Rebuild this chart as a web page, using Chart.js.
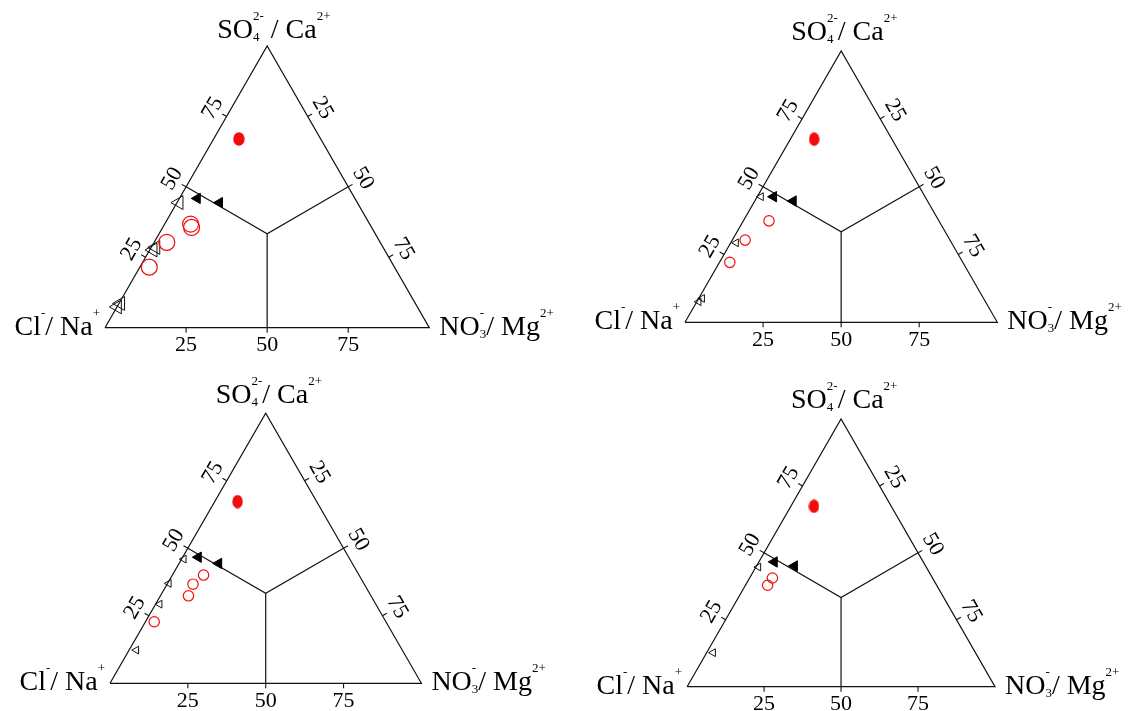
<!DOCTYPE html>
<html>
<head>
<meta charset="utf-8">
<script src="https://cdn.jsdelivr.net/npm/chart.js@4.4.0/dist/chart.umd.min.js"></script>
<style>
  html, body { margin: 0; padding: 0; background: #ffffff; }
  #sheet { position: relative; width: 1130px; height: 711px; overflow: hidden; background: #ffffff; }
  #sheet canvas { position: absolute; }
</style>
</head>
<body>
<div id="sheet">
  <canvas id="chartA" width="565" height="355" style="left:0;top:0"></canvas>
  <canvas id="chartB" width="565" height="355" style="left:565px;top:0"></canvas>
  <canvas id="chartC" width="565" height="356" style="left:0;top:355px"></canvas>
  <canvas id="chartD" width="565" height="356" style="left:565px;top:355px"></canvas>
</div>
<script>
// Percent marks along each side of the triangle
const tickValues = [25, 50, 75];
const tickLabels = ['25', '50', '75'];

// Corner labels: plain runs ({t}) and stacked scripts ({sup, sub})
const labelTopWide = [{ t: 'SO' }, { sub: '4', sup: '2-' }, { t: ' / Ca' }, { sup: '2+' }];
const labelTop = [{ t: 'SO' }, { sub: '4', sup: '2-' }, { t: '/ Ca' }, { sup: '2+' }];
const labelLeft = [{ t: 'Cl' }, { sup: '-' }, { t: '/ Na' }, { sup: '+' }];
const labelRight = [{ t: 'NO' }, { sub: '3', sup: '-' }, { t: '/ Mg' }, { sup: '2+' }];

// Sample compositions as [SO4 %, NO3 %]; Cl makes up the rest to 100 %
const a_solidCircles = [[67.0, 7.8]];
const a_solidTriangles = [[45.9, 5.5], [44.4, 13.1]];
const a_openTriangles = [[44.4, 0.6], [28.5, 1.4], [27.6, 1.0], [7.4, 0.1], [8.6, 0.5]];
const a_openCircles = [[21.5, 2.9], [30.3, 3.9], [36.8, 8.0], [35.6, 8.9]];

const b_solidCircles = [[67.5, 7.6]];
const b_solidTriangles = [[46.3, 5.2], [44.7, 12.3]];
const b_openTriangles = [[46.3, 1.2], [29.3, 1.7], [8.8, 1.1], [7.6, 0.6]];
const b_openCircles = [[37.4, 8.2], [30.3, 4.1], [22.1, 3.3]];

const c_solidCircles = [[67.3, 7.3]];
const c_solidTriangles = [[46.7, 5.0], [44.4, 12.7]];
const c_openTriangles = [[46.0, 0.7], [37.0, 0.4], [29.3, 1.3], [12.3, 2.3]];
const c_openCircles = [[22.8, 2.8], [32.4, 9.0], [36.7, 8.3], [40.1, 10.0]];

const d_solidCircles = [[67.4, 7.5]];
const d_solidTriangles = [[46.6, 5.0], [45.1, 12.3]];
const d_openTriangles = [[44.7, 0.8], [12.7, 2.1]];
const d_openCircles = [[40.6, 7.4], [37.9, 7.2]];

// ---------------------------------------------------------------------------

const INK = '#111111';
const RED = '#f20c0c';
const SERIF = '"Liberation Serif", "Times New Roman", serif';

// ternary [SO4, NO3] -> plot coordinates (x across the base, y up to the SO4 apex)
const toXY = ([so4, no3]) => ({ x: no3 + so4 / 2, y: so4 });

function ellipseMarker(w, h, color) {
  const c = document.createElement('canvas');
  c.width = w; c.height = h;
  const g = c.getContext('2d');
  g.fillStyle = color;
  g.beginPath();
  g.ellipse(w / 2, h / 2, w / 2 - 0.3, h / 2 - 0.3, 0, 0, Math.PI * 2);
  g.fill();
  return c;
}

function richWidth(ctx, parts, big, small) {
  return parts.map(p => {
    if (p.t !== undefined) { ctx.font = big; return ctx.measureText(p.t).width; }
    ctx.font = small;
    return Math.max(p.sup ? ctx.measureText(p.sup).width : 0, p.sub ? ctx.measureText(p.sub).width : 0);
  });
}

function drawRich(ctx, parts, x, y, align, st) {
  const widths = richWidth(ctx, parts, st.big, st.small);
  const total = widths.reduce((s, v) => s + v, 0);
  let cx = align === 'right' ? x - total : x;
  ctx.textAlign = 'left';
  ctx.textBaseline = 'alphabetic';
  parts.forEach((p, i) => {
    if (p.t !== undefined) {
      ctx.font = st.big;
      ctx.fillText(p.t, cx, y);
    } else {
      ctx.font = st.small;
      if (p.sup) ctx.fillText(p.sup, cx, y - st.raise);
      if (p.sub) ctx.fillText(p.sub, cx, y + st.drop);
    }
    cx += widths[i];
  });
}

// Frame marks, percent labels and corner names, placed through the chart's scales
const ternaryFrame = {
  id: 'ternaryFrame',
  afterDraw(chart, args, o) {
    const { ctx } = chart;
    const sx = chart.scales.x, sy = chart.scales.y;
    const px = (x, y) => ({ x: sx.getPixelForValue(x), y: sy.getPixelForValue(y) });
    const L = px(0, 0), T = px(50, 100), R = px(100, 0);
    const C = { x: (L.x + T.x + R.x) / 3, y: (L.y + T.y + R.y) / 3 };

    const sides = [
      { at: v => px(v / 2, v), a: L, b: T, gap: o.sideGap },
      { at: v => px(v + (100 - v) / 2, 100 - v), a: T, b: R, gap: o.sideGap + 1 },
      { at: v => px(v, 0), a: L, b: R, gap: o.baseGap }
    ];

    ctx.save();
    ctx.strokeStyle = INK;
    ctx.lineWidth = 1.1;
    ctx.fillStyle = '#000';
    sides.forEach(s => {
      let dx = s.b.x - s.a.x, dy = s.b.y - s.a.y;
      const len = Math.hypot(dx, dy);
      dx /= len; dy /= len;
      let nx = dy, ny = -dx;
      const mx = (s.a.x + s.b.x) / 2, my = (s.a.y + s.b.y) / 2;
      if ((mx - C.x) * nx + (my - C.y) * ny < 0) { nx = -nx; ny = -ny; }
      const ang = Math.abs(dy) < 0.01 ? 0 : Math.atan2(dy, dx);
      tickValues.forEach((v, i) => {
        const p = s.at(v);
        ctx.beginPath();
        ctx.moveTo(p.x, p.y);
        ctx.lineTo(p.x + nx * o.tickLen, p.y + ny * o.tickLen);
        ctx.stroke();
        ctx.save();
        ctx.translate(p.x + nx * s.gap, p.y + ny * s.gap);
        ctx.rotate(ang);
        ctx.font = o.tickFont;
        ctx.textAlign = 'center';
        ctx.textBaseline = 'middle';
        ctx.fillText(tickLabels[i], 0, 0);
        ctx.restore();
      });
    });

    const st = { big: o.labelFont, small: o.scriptFont, raise: o.raise, drop: o.drop };
    drawRich(ctx, o.topLabel, T.x + o.topDx, T.y + o.topDy, 'left', st);
    drawRich(ctx, labelLeft, L.x + o.leftDx, L.y + o.cornerDy, 'right', st);
    drawRich(ctx, labelRight, R.x + o.rightDx, R.y + o.cornerDy, 'left', st);
    ctx.restore();
  }
};

function buildChart(id, src, look) {
  const line = (pts) => ({
    type: 'scatter', showLine: true, data: pts, borderColor: INK, borderWidth: 1.2,
    pointRadius: 0, tension: 0, fill: false, clip: false, order: 5
  });
  const datasets = [
    {
      data: src.solid.map(toXY), pointStyle: ellipseMarker(look.dotW, look.dotH, RED),
      pointRadius: 6, clip: false, order: 0
    },
    {
      data: src.solidTri.map(toXY), pointStyle: 'triangle', pointRotation: -90,
      pointRadius: look.solidTriR, pointBackgroundColor: '#000', pointBorderColor: '#000',
      pointBorderWidth: 1, clip: false, order: 1
    },
    {
      data: src.openCirc.map(toXY), pointStyle: 'circle', pointRadius: look.circR,
      pointBackgroundColor: 'rgba(0,0,0,0)', pointBorderColor: RED,
      pointBorderWidth: 1.2, clip: false, order: 2
    },
    {
      data: src.openTri.map(toXY), pointStyle: 'triangle', pointRotation: -90,
      pointRadius: look.openTriR, pointBackgroundColor: 'rgba(0,0,0,0)', pointBorderColor: INK,
      pointBorderWidth: 1, clip: false, order: 3
    },
    // dividing lines from the centre to the middle of each side
    line([{ x: 25, y: 50 }, { x: 50, y: 100 / 3 }, { x: 75, y: 50 }]),
    line([{ x: 50, y: 100 / 3 }, { x: 50, y: 0 }]),
    // triangle outline
    line([{ x: 0, y: 0 }, { x: 50, y: 100 }, { x: 100, y: 0 }, { x: 0, y: 0 }])
  ];

  return new Chart(document.getElementById(id), {
    type: 'scatter',
    data: { datasets },
    options: {
      responsive: false,
      animation: false,
      events: [],
      layout: { padding: look.pad },
      scales: {
        x: { type: 'linear', min: 0, max: 100, display: false },
        y: { type: 'linear', min: 0, max: 100, display: false }
      },
      plugins: {
        legend: { display: false },
        tooltip: { enabled: false },
        ternaryFrame: {
          tickLen: 5, sideGap: 16, baseGap: 18,
          tickFont: '22px ' + SERIF,
          labelFont: '28px ' + SERIF, scriptFont: '13px ' + SERIF,
          raise: 18, drop: 3,
          topLabel: look.topLabel,
          topDx: -50, topDy: look.topDy, leftDx: -5, rightDx: 10, cornerDy: 7
        }
      }
    },
    plugins: [ternaryFrame]
  });
}

buildChart('chartA',
  { solid: a_solidCircles, solidTri: a_solidTriangles, openTri: a_openTriangles, openCirc: a_openCircles },
  { pad: { left: 105, right: 135.7, top: 46, bottom: 27.3 }, dotW: 12, dotH: 14, solidTriR: 6, openTriR: 8, circR: 8, topDy: -8, topLabel: labelTopWide });

buildChart('chartB',
  { solid: b_solidCircles, solidTri: b_solidTriangles, openTri: b_openTriangles, openCirc: b_openCircles },
  { pad: { left: 120, right: 132.7, top: 51, bottom: 32.7 }, dotW: 11, dotH: 14, solidTriR: 6, openTriR: 4.5, circR: 5.2, topDy: -11, topLabel: labelTop });

buildChart('chartC',
  { solid: c_solidCircles, solidTri: c_solidTriangles, openTri: c_openTriangles, openCirc: c_openCircles },
  { pad: { left: 110, right: 143.6, top: 58.3, bottom: 27.7 }, dotW: 11, dotH: 14, solidTriR: 6, openTriR: 4.5, circR: 5.2, topDy: -10, topLabel: labelTop });

buildChart('chartD',
  { solid: d_solidCircles, solidTri: d_solidTriangles, openTri: d_openTriangles, openCirc: d_openCircles },
  { pad: { left: 122.1, right: 135, top: 64, bottom: 24.3 }, dotW: 11, dotH: 14, solidTriR: 6, openTriR: 4.5, circR: 5.2, topDy: -11, topLabel: labelTop });
</script>
</body>
</html>
